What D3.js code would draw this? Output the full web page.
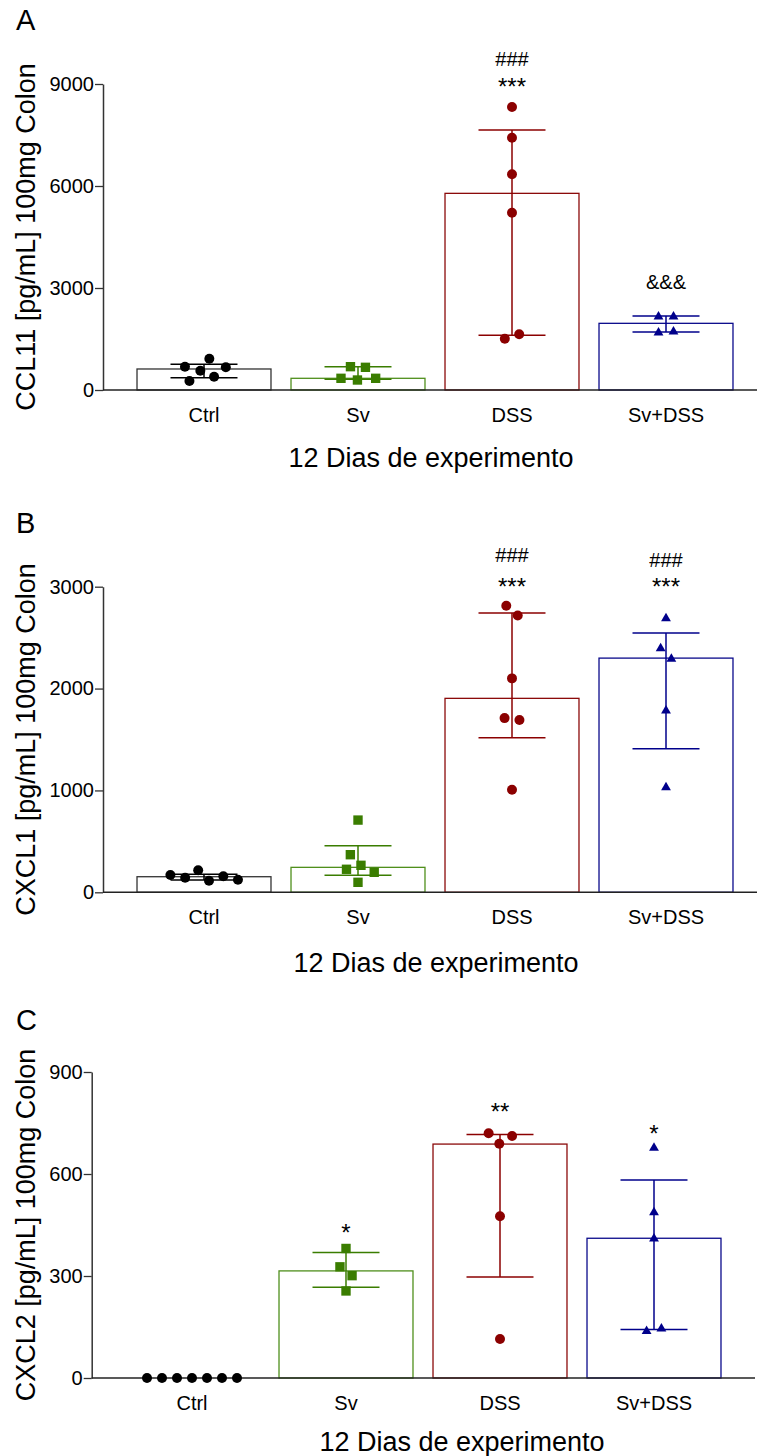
<!DOCTYPE html>
<html>
<head>
<meta charset="utf-8">
<script src="https://cdn.jsdelivr.net/npm/d3@7"></script>
<style>
  body { margin: 0; background: #fff; }
  text { font-family: Arial, "Liberation Sans", sans-serif; fill: #000; }
</style>
</head>
<body>
<script>
// Groups shared by the three panels
const groups = ["Ctrl", "Sv", "DSS", "Sv+DSS"];
const markerColors = ["#000000", "#3a7d00", "#8b0000", "#00008b"];
const lineColors = ["#333333", "#4f8f1c", "#8b0a0a", "#0a0a8b"];
const markerShapes = [d3.symbolCircle, d3.symbolSquare, d3.symbolCircle, d3.symbolTriangle];

// Panel A - CCL11
const ccl11Points = [
    [686, 568, 921, 265, 392, 667],
    [686, 344, 294, 344, 667],
    [8324, 7421, 6343, 5216, 1510, 1637],
    [2157, 2157, 1686, 1716]
];
const ccl11Bars = [618, 344, 5784, 1961];
const ccl11ErrLow = [362, 314, 1608, 1706];
const ccl11ErrHigh = [756, 686, 7647, 2176];
const ccl11Ticks = [0, 3000, 6000, 9000];
const ccl11Sig = [
    { group: "DSS", text: "###", value: 9741 },
    { group: "DSS", text: "***", value: 9103 },
    { group: "Sv+DSS", text: "&&&", value: 3185 }
];

// Panel B - CXCL1
const cxcl1Points = [
    [170, 143, 114, 124, 157, 216],
    [709, 369, 226, 265, 196, 98],
    [2813, 2718, 2100, 1710, 1691, 1007],
    [2689, 2395, 2292, 1782, 1030]
];
const cxcl1Bars = [153, 245, 1904, 2299];
const cxcl1ErrLow = [120, 167, 1517, 1409];
const cxcl1ErrHigh = [176, 457, 2741, 2545];
const cxcl1Ticks = [0, 1000, 2000, 3000];
const cxcl1Sig = [
    { group: "DSS", text: "###", value: 3310 },
    { group: "DSS", text: "***", value: 3065 },
    { group: "Sv+DSS", text: "###", value: 3268 },
    { group: "Sv+DSS", text: "***", value: 3062 }
];

// Panel C - CXCL2
const cxcl2Points = [
    [0, 0, 0, 0, 0, 0, 0],
    [381, 327, 301, 256],
    [720, 712, 689, 476, 115],
    [677, 487, 410, 138, 145]
];
const cxcl2Bars = [0, 315, 688, 411];
const cxcl2ErrLow = [0, 267, 297, 143];
const cxcl2ErrHigh = [0, 369, 716, 582];
const cxcl2Ticks = [0, 300, 600, 900];
const cxcl2Sig = [
    { group: "Sv", text: "*", value: 446 },
    { group: "DSS", text: "**", value: 804 },
    { group: "Sv+DSS", text: "*", value: 739 }
];

const xTitle = "12 Dias de experimento";

const svg = d3.select("body").append("svg")
    .attr("width", 757)
    .attr("height", 1456);

function drawPanel(p) {
    const g = svg.append("g");

    const y = d3.scaleLinear().domain([0, p.ticks[p.ticks.length - 1]]).range([p.y0, p.yTop]);
    const x = d3.scaleBand().domain(groups)
        .range([p.xr0, p.xr1])
        .paddingInner(0.13)
        .paddingOuter(0.065);
    const cx = d => x(d) + x.bandwidth() / 2;

    // panel letter
    g.append("text")
        .attr("x", 16).attr("y", p.letterY)
        .attr("font-size", 29)
        .text(p.letter);

    // y axis
    const yAxis = g.append("g")
        .attr("transform", `translate(${p.axisX},0)`)
        .call(d3.axisLeft(y).tickValues(p.ticks).tickFormat(d3.format("d"))
            .tickSize(8).tickPadding(1).tickSizeOuter(0));
    yAxis.select(".domain").attr("stroke", "#333").attr("stroke-width", 1.5);
    yAxis.selectAll(".tick line").attr("stroke", "#333").attr("stroke-width", 1.3);
    yAxis.selectAll(".tick text").attr("font-size", 20).attr("font-family", null).attr("fill", "#000");

    // y title
    g.append("text")
        .attr("transform", `translate(35,${(p.y0 + p.yTop) / 2}) rotate(-90)`)
        .attr("text-anchor", "middle")
        .attr("font-size", 27)
        .text(p.yTitle);

    // bars
    g.selectAll("rect.bar").data(groups).join("rect")
        .attr("class", "bar")
        .attr("x", d => x(d))
        .attr("y", (d, i) => y(p.bars[i]))
        .attr("width", x.bandwidth())
        .attr("height", (d, i) => y(0) - y(p.bars[i]))
        .attr("fill", "#fff")
        .attr("stroke", (d, i) => lineColors[i])
        .attr("stroke-width", 1.3)
        .style("display", (d, i) => p.bars[i] > 0 ? null : "none");

    // x axis line + category labels
    g.append("line")
        .attr("x1", p.axisX).attr("x2", p.xEnd)
        .attr("y1", p.y0).attr("y2", p.y0)
        .attr("stroke", "#222").attr("stroke-width", 1.5);
    const xAxis = g.append("g")
        .attr("transform", `translate(0,${p.y0})`)
        .call(d3.axisBottom(x).tickSize(0).tickPadding(17.5));
    xAxis.select(".domain").remove();
    xAxis.selectAll(".tick text").attr("font-size", 20).attr("font-family", null).attr("fill", "#000");

    // x title
    g.append("text")
        .attr("x", p.xTitleX).attr("y", p.xTitleY)
        .attr("text-anchor", "middle")
        .attr("font-size", 27)
        .text(xTitle);

    // error bars
    const capHalf = x.bandwidth() / 4;
    groups.forEach((grp, i) => {
        if (p.errHigh[i] === p.errLow[i]) return;
        const c = cx(grp);
        const eg = g.append("g").attr("stroke", markerColors[i]).attr("stroke-width", 1.5);
        eg.append("line").attr("x1", c).attr("x2", c).attr("y1", y(p.errLow[i])).attr("y2", y(p.errHigh[i]));
        [p.errLow[i], p.errHigh[i]].forEach(v => {
            eg.append("line").attr("x1", c - capHalf).attr("x2", c + capHalf)
                .attr("y1", y(v)).attr("y2", y(v));
        });
    });

    // points: beeswarm through a force simulation with fixed y
    const nodes = [];
    p.points.forEach((vals, i) => {
        const c = cx(groups[i]);
        vals.forEach((v, j) => {
            nodes.push({ gi: i, value: v, cx: c, x: c + (j - (vals.length - 1) / 2) * 0.5, fy: y(v) });
        });
    });
    d3.forceSimulation(nodes)
        .force("x", d3.forceX(d => d.cx).strength(0.08))
        .force("collide", d3.forceCollide(7.5).iterations(4))
        .stop()
        .tick(400);

    g.selectAll("path.pt").data(nodes).join("path")
        .attr("class", "pt")
        .attr("transform", d => `translate(${d.x},${d.fy})`)
        .attr("d", d => d3.symbol(markerShapes[d.gi], [78, 88, 78, 42][d.gi])())
        .attr("fill", d => markerColors[d.gi]);

    // significance marks
    g.selectAll("text.sig").data(p.sig).join("text")
        .attr("class", "sig")
        .attr("x", d => cx(d.group))
        .attr("y", d => y(d.value))
        .attr("dy", d => d.text.startsWith("*") ? "0.62em" : "0.36em")
        .attr("text-anchor", "middle")
        .attr("font-size", d => d.text.startsWith("*") ? 24 : 20)
        .text(d => d.text);
}

drawPanel({
    letter: "A", letterY: 30,
    yTitle: "CCL11 [pg/mL] 100mg Colon",
    axisX: 103, y0: 390, yTop: 84, xr0: 127, xr1: 743, xEnd: 757,
    xTitleX: 431, xTitleY: 467,
    points: ccl11Points, bars: ccl11Bars, errLow: ccl11ErrLow, errHigh: ccl11ErrHigh,
    ticks: ccl11Ticks, sig: ccl11Sig
});

drawPanel({
    letter: "B", letterY: 533,
    yTitle: "CXCL1 [pg/mL] 100mg Colon",
    axisX: 103, y0: 892.3, yTop: 586.7, xr0: 127, xr1: 743, xEnd: 757,
    xTitleX: 436, xTitleY: 972,
    points: cxcl1Points, bars: cxcl1Bars, errLow: cxcl1ErrLow, errHigh: cxcl1ErrHigh,
    ticks: cxcl1Ticks, sig: cxcl1Sig
});

drawPanel({
    letter: "C", letterY: 1030,
    yTitle: "CXCL2 [pg/mL] 100mg Colon",
    axisX: 91.7, y0: 1378, yTop: 1072, xr0: 115, xr1: 731, xEnd: 755,
    xTitleX: 462, xTitleY: 1451,
    points: cxcl2Points, bars: cxcl2Bars, errLow: cxcl2ErrLow, errHigh: cxcl2ErrHigh,
    ticks: cxcl2Ticks, sig: cxcl2Sig
});
</script>
</body>
</html>
